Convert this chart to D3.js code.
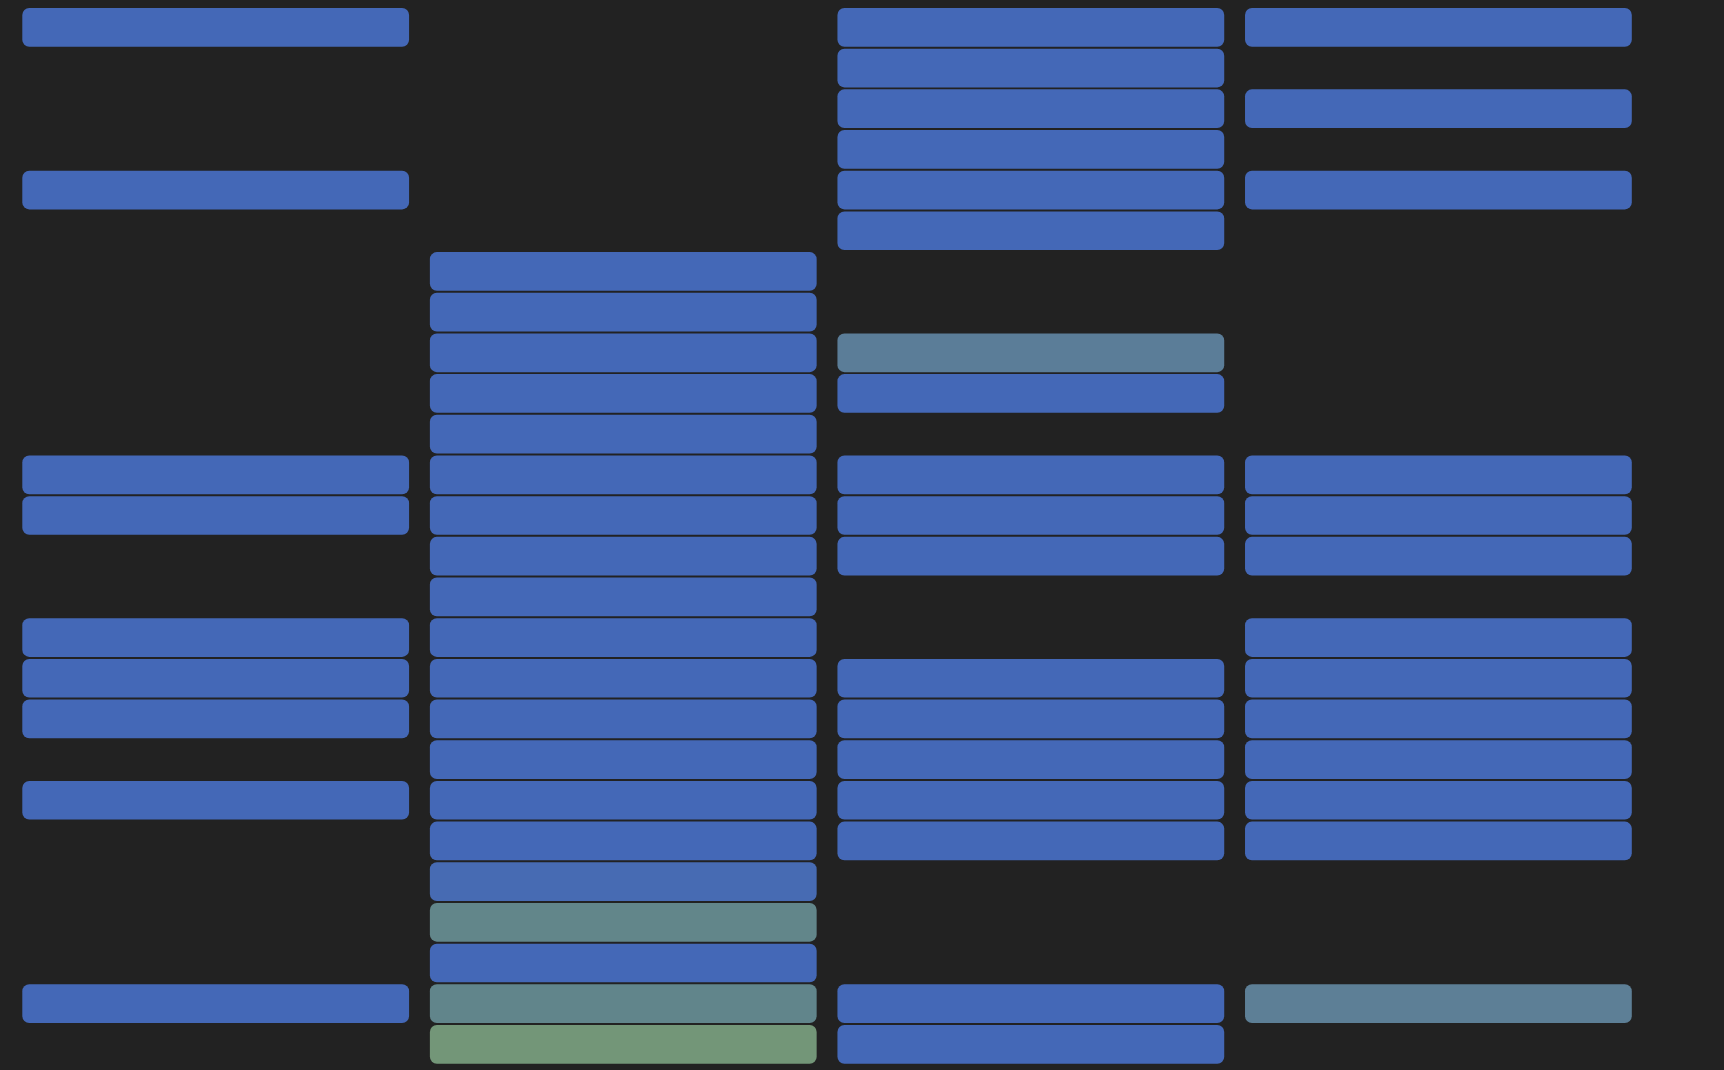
<!DOCTYPE html>
<html>
<head>
<meta charset="utf-8">
<script src="https://cdn.jsdelivr.net/npm/d3@7"></script>
<style>
  html, body { margin: 0; padding: 0; background: #222222; }
  svg { display: block; }
</style>
</head>
<body>
<svg id="chart" width="1724" height="1070"></svg>
<script>
// ---- data ----
const columns = ["C1", "C2", "C3", "C4"];
const rows = [0, 1, 2, 3, 4, 5, 6, 7, 8, 9, 10, 11, 12, 13, 14, 15, 16, 17, 18, 19, 20, 21, 22, 23, 24, 25];
// null = empty cell, number = intensity
const valuesC1 = [0, null, null, null, 0, null, null, null, null, null, null, 0, 0, null, null, 0, 0, 0, null, 0, null, null, null, null, 0, null];
const valuesC2 = [null, null, null, null, null, null, 0, 0, 0, 0, 0, 0, 0, 0, 0, 0, 0, 0, 0, 0, 0, 0.07, 0.7, 0, 0.68, 1];
const valuesC3 = [0, 0, 0, 0, 0, 0, null, null, 0.48, 0, null, 0, 0, 0, null, null, 0, 0, 0, 0, 0, null, null, null, 0, 0];
const valuesC4 = [0, null, 0, null, 0, null, null, null, null, null, null, 0, 0, 0, null, 0, 0, 0, 0, 0, 0, null, null, null, 0.52, null];
const colorStops = [0, 0.5, 0.7, 1];
const colorRange = ["#4468b7", "#5c7e97", "#62868a", "#739678"];

// ---- build ----
const seriesByColumn = [valuesC1, valuesC2, valuesC3, valuesC4];
const cells = [];
columns.forEach((c, ci) => {
  seriesByColumn[ci].forEach((v, ri) => {
    if (v !== null) cells.push({ col: c, row: rows[ri], value: v });
  });
});

const svg = d3.select("#chart");
const x = d3.scaleBand().domain(columns).range([22.3, 1631.8]).paddingInner(0.051).paddingOuter(0);
const y = d3.scaleBand().domain(rows).range([8, 1063.7]).paddingInner(0.0487).paddingOuter(0);
const color = d3.scaleLinear().domain(colorStops).range(colorRange);

svg.append("g")
  .selectAll("rect")
  .data(cells)
  .join("rect")
  .attr("x", d => x(d.col))
  .attr("y", d => y(d.row))
  .attr("width", x.bandwidth())
  .attr("height", y.bandwidth())
  .attr("rx", 7)
  .attr("ry", 7)
  .attr("fill", d => color(d.value));
</script>
</body>
</html>
